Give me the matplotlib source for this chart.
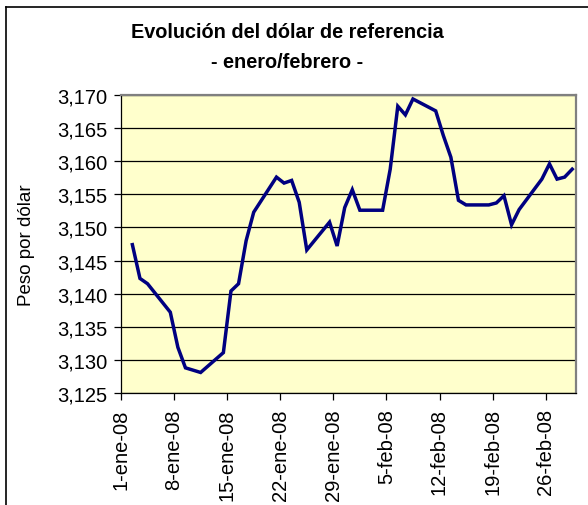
import datetime as dt
import matplotlib
matplotlib.use("Agg")
import matplotlib.pyplot as plt
import matplotlib.dates as mdates
from matplotlib.lines import Line2D
from matplotlib.ticker import FuncFormatter, MultipleLocator

plt.rcParams['font.family'] = ['Liberation Sans', 'DejaVu Sans']

# DATOS (fechas hábiles y valor del dólar)
fechas = [
    "2008-01-02", "2008-01-03", "2008-01-04", "2008-01-07", "2008-01-08",
    "2008-01-09", "2008-01-11", "2008-01-14", "2008-01-15", "2008-01-16",
    "2008-01-17", "2008-01-18", "2008-01-21", "2008-01-22", "2008-01-23",
    "2008-01-24", "2008-01-25", "2008-01-28", "2008-01-29", "2008-01-30",
    "2008-01-31", "2008-02-01", "2008-02-04", "2008-02-05", "2008-02-06",
    "2008-02-07", "2008-02-08", "2008-02-11", "2008-02-12", "2008-02-13",
    "2008-02-14", "2008-02-15", "2008-02-18", "2008-02-19", "2008-02-20",
    "2008-02-21", "2008-02-22", "2008-02-25", "2008-02-26", "2008-02-27",
    "2008-02-28", "2008-02-29",
]
valores = [
    3.1474, 3.1423, 3.1415, 3.1372, 3.1319,
    3.1288, 3.1281, 3.1311, 3.1404, 3.1415,
    3.1480, 3.1523, 3.1576, 3.1567, 3.1571,
    3.1538, 3.1466, 3.1508, 3.1472, 3.1530,
    3.1557, 3.1526, 3.1526, 3.1588, 3.1683,
    3.1670, 3.1694, 3.1676, 3.1639, 3.1606,
    3.1541, 3.1534, 3.1534, 3.1537, 3.1548,
    3.1504, 3.1527, 3.1573, 3.1596, 3.1573,
    3.1576, 3.1588,
]
meses = {1: "ene", 2: "feb"}

# puntos al centro del día, como en el eje de fechas de Excel
x = [mdates.date2num(dt.datetime.strptime(f, "%Y-%m-%d")) + 0.5 for f in fechas]

fig = plt.figure(figsize=(5.88, 5.06), dpi=100)
ax = fig.add_axes([121 / 588, 1 - 394 / 506, 455 / 588, 298 / 506])
ax.set_facecolor("#FFFFCC")

ax.plot(x, valores, color="#000080", linewidth=2.5, solid_joinstyle="miter", zorder=3)

inicio = mdates.date2num(dt.datetime(2008, 1, 1))
ax.set_xlim(inicio, inicio + 60)
ax.set_ylim(3.125, 3.170)
ax.yaxis.set_major_locator(MultipleLocator(0.005))
ax.yaxis.set_major_formatter(FuncFormatter(lambda v, p: f"{v:.3f}".replace(".", ",")))


def fmt_fecha(v, p):
    d = mdates.num2date(v)
    return f"{d.day}-{meses.get(d.month, '')}-08"


ax.xaxis.set_major_formatter(FuncFormatter(fmt_fecha))
ticks = [inicio + 7 * i for i in range(9)]
ax.set_xticks(ticks)

ax.grid(axis="y", color="black", linewidth=0.9)
ax.set_axisbelow(True)
ax.tick_params(axis="both", direction="out", length=5, width=0.9, color="black",
               labelsize=14.5, pad=5)
ax.tick_params(axis="x", labelrotation=90, pad=6)
for s in ["top", "right"]:
    ax.spines[s].set_color("#808080")
    ax.spines[s].set_linewidth(1.6)
for s in ["left", "bottom"]:
    ax.spines[s].set_color("black")
    ax.spines[s].set_linewidth(0.9)

ax.set_ylabel("Peso por dólar", fontsize=13.5, labelpad=16)

fig.text(287 / 588, 1 - 32 / 506, "Evolución del dólar de referencia",
         ha="center", va="center", fontsize=14.3, fontweight="bold")
fig.text(287 / 588, 1 - 63 / 506, "- enero/febrero -",
         ha="center", va="center", fontsize=14.3, fontweight="bold")

# borde exterior del gráfico
fig.add_artist(Line2D([6 / 588, 6 / 588], [0, 1 - 8 / 506], transform=fig.transFigure,
                      color="black", linewidth=1.2))
fig.add_artist(Line2D([6 / 588, 1], [1 - 8 / 506, 1 - 8 / 506], transform=fig.transFigure,
                      color="black", linewidth=1.2))

fig.savefig("out.png", dpi=100)
